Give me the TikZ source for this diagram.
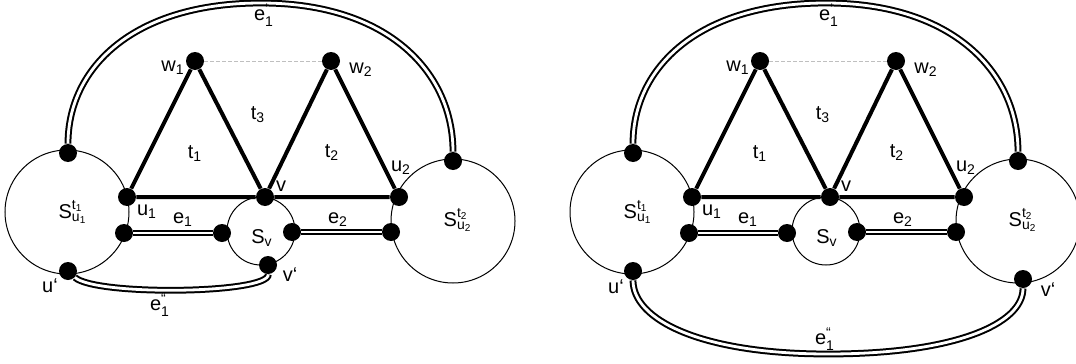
\documentclass[tikz,border=0pt]{standalone}
\usepackage{amsmath}
\usepackage{fontspec}
\setmainfont{Liberation Sans}
\tikzstyle{vertex} = [circle,fill=black,inner sep=0pt,minimum size=9pt]
\tikzstyle{region} = [circle,draw,line width=0.5pt,inner sep=0pt]

\begin{document}
\begin{tikzpicture}[x=0.5pt,y=-0.5pt]
\tikzstyle{tri} = [line width=2pt]
\tikzstyle{dbl} = [double,line width=1pt,double distance=1.4pt]
\tikzstyle{hint} = [gray!50,line width=0.4pt,dash pattern=on 2pt off 1pt]
\useasboundingbox (0,0) rectangle (1076,364);
\foreach \dx/\p in {0/L,282.5/R}{
\begin{scope}[xshift=\dx pt]
\node[region,minimum size=62pt] at (67,212) (Su1\p) {};
\node[region,minimum size=62pt] at (453,221) (Su2\p) {};
\node[region,minimum size=34pt] at (261,231) (Sv\p) {};
\node at (73,212) (lSu1\p) {S$^{\text{t}_{\text{1}}}_{\text{u}_{\text{1}}}$};
\node at (458,220) (lSu2\p) {S$^{\text{t}_{\text{2}}}_{\text{u}_{\text{2}}}$};
\node at (262,238) (lSv\p) {S$_{\text{v}}$};
\node[vertex] at (195,61) (w1\p) {};
\node[vertex] at (331,61) (w2\p) {};
\node[vertex] at (127,197) (u1\p) {};
\node[vertex] at (265,197) (v\p) {};
\node[vertex] at (399,197) (u2\p) {};
\node[vertex] at (68,153) (a1\p) {};
\node[vertex] at (453,161) (b1\p) {};
\node[vertex] at (124,233) (e1a\p) {};
\node[vertex] at (222,233) (e1b\p) {};
\node[vertex] at (292,232) (e2a\p) {};
\node[vertex] at (391,232) (e2b\p) {};
\node[vertex] at (68,271) (up\p) {};
\coordinate (top\p) at (261,3);
\draw[hint] (w1\p) -- (w2\p);
\draw[tri] (u1\p) -- (w1\p) -- (v\p) -- (w2\p) -- (u2\p) -- (v\p) -- (u1\p);
\draw[dbl] (e1a\p) -- (e1b\p);
\draw[dbl] (e2a\p) -- (e2b\p);
\draw[dbl] (a1\p) .. controls (68,68) and (133,3) .. (top\p) .. controls (389,3) and (453,73) .. (b1\p);
\node at (173,68) (lw1\p) {w$_{\text{1}}$};
\node at (361,70) (lw2\p) {w$_{\text{2}}$};
\node at (258,115) (lt3\p) {t$_{\text{3}}$};
\node at (195,154) (lt1\p) {t$_{\text{1}}$};
\node at (332,153) (lt2\p) {t$_{\text{2}}$};
\node at (281,186) (lv\p) {v};
\node at (401,168) (lu2\p) {u$_{\text{2}}$};
\node at (147,212) (lu1\p) {u$_{\text{1}}$};
\node at (183,220) (le1\p) {e$_{\text{1}}$};
\node at (338,220) (le2\p) {e$_{\text{2}}$};
\node at (264,15) (lea\p) {e$^{\text{‘}}_{\text{1}}$};
\end{scope}
}
% left: e1'' stays close
\node at (50,286) (lupL) {u‘};
\node[vertex] at (268,265) (vpL) {};
\draw[dbl] (upL) .. controls (95,296) and (269,294) .. (vpL);
\node at (290,275) (lvpL) {v‘};
\node at (160,305) (leeL) {e$^{\text{“}}_{\text{1}}$};
% right: e1'' goes round below
\node at (616,287) (lupR) {u‘};
\node[vertex] at (1023,279) (vpR) {};
\coordinate (bot) at (828,354);
\draw[dbl] (upR) .. controls (633,320) and (701,354) .. (bot) .. controls (955,354) and (1023,324) .. (vpR);
\node at (1048,290) (lvpR) {v‘};
\node at (825,339) (leeR) {e$^{\text{“}}_{\text{1}}$};
\end{tikzpicture}
\end{document}
